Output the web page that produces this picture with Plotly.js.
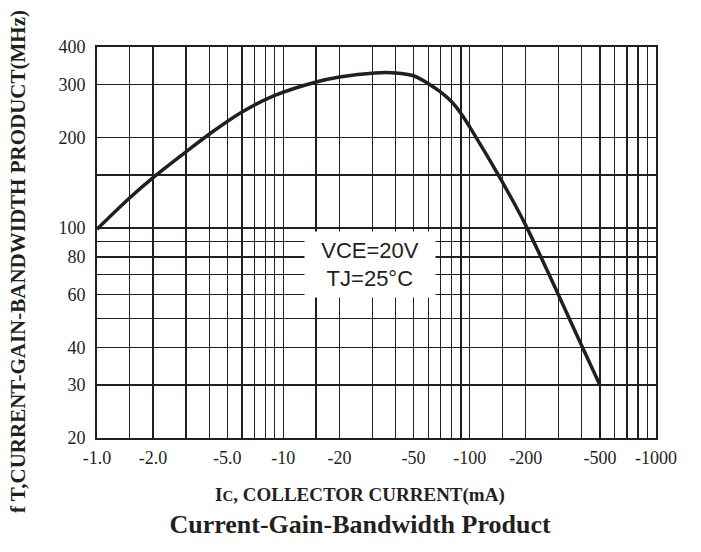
<!DOCTYPE html>
<html>
<head>
<meta charset="utf-8">
<script src="https://cdn.plot.ly/plotly-3.0.1.min.js"></script>
<style>html,body{margin:0;padding:0;background:#fff;}#chart{width:701px;height:552px;}</style>
</head>
<body>
<div id="chart"></div>
<script>
// Collector current (mA, magnitude) and transition frequency fT (MHz)
const ic = [1, 1.5, 2, 3, 4, 6, 9, 15, 20, 31, 40, 50, 60, 70, 80, 90, 100, 150, 200, 400, 500];
const ft = [99, 126, 147, 179, 205, 243, 276, 306, 318, 328, 328, 321, 302, 283, 263, 240, 217, 142, 102, 40.5, 30];

// Grid / tick values
const xGrid = [1, 1.5, 2, 3, 4, 5, 6, 7, 8, 9, 10, 15, 20, 30, 40, 50, 60, 70, 80, 90, 100, 150, 200, 300, 400, 500, 600, 700, 800, 900, 1000];
const xLabelVals = [1, 2, 5, 10, 20, 50, 100, 200, 500, 1000];
const xLabelText = ['-1.0', '-2.0', '-5.0', '-10', '-20', '-50', '-100', '-200', '-500', '-1000'];
const yGrid = [20, 30, 40, 50, 60, 70, 80, 90, 100, 150, 200, 300, 400];
const yLabelVals = [20, 30, 40, 60, 80, 100, 200, 300, 400];
const yLabelText = ['20', '30', '40', '60', '80', '100', '200', '300', '400'];

const serif = '"Liberation Serif", "Times New Roman", serif';
const ink = '#231f20';

const trace = {
  x: ic, y: ft, type: 'scatter', mode: 'lines',
  line: {color: ink, width: 3.5, shape: 'spline', smoothing: 1.0},
  hoverinfo: 'skip'
};

const layout = {
  width: 701, height: 552,
  margin: {l: 97, r: 45, t: 47, b: 114},
  paper_bgcolor: '#fff', plot_bgcolor: '#fff',
  showlegend: false,
  title: {
    text: 'Current-Gain-Bandwidth Product',
    font: {family: serif, size: 26, color: ink, weight: 'bold'},
    xref: 'paper', x: 0.4705, xanchor: 'center',
    yref: 'container', y: 1 - 524 / 552, yanchor: 'middle'
  },
  xaxis: {
    type: 'log', range: [0, 3],
    tickmode: 'array', tickvals: xLabelVals, ticktext: xLabelText,
    ticks: '', showgrid: true, gridcolor: ink, gridwidth: 1.3,
    minor: {tickmode: 'array', tickvals: xGrid, ticks: '', showgrid: true, gridcolor: ink, gridwidth: 1.3},
    showline: true, mirror: true, linecolor: ink, linewidth: 2,
    zeroline: false,
    tickfont: {family: serif, size: 18, color: ink},
    ticklabelstandoff: 2
  },
  yaxis: {
    type: 'log', range: [Math.log10(20), Math.log10(400)],
    tickmode: 'array', tickvals: yLabelVals, ticktext: yLabelText,
    ticks: '', showgrid: true, gridcolor: ink, gridwidth: 1.3,
    minor: {tickmode: 'array', tickvals: yGrid, ticks: '', showgrid: true, gridcolor: ink, gridwidth: 1.3},
    showline: true, mirror: true, linecolor: ink, linewidth: 2,
    zeroline: false,
    tickfont: {family: serif, size: 18, color: ink},
    ticklabelstandoff: 6
  },
  annotations: [
    {
      xref: 'paper', yref: 'paper', x: 0.488, y: 0.4425,
      xanchor: 'center', yanchor: 'middle',
      text: 'VCE=20V<br>TJ=25°C',
      font: {family: '"Liberation Sans", Arial, sans-serif', size: 22, color: ink},
      bgcolor: '#fff', borderpad: 0, width: 130, height: 65,
      showarrow: false, align: 'center'
    },
    {
      xref: 'paper', yref: 'paper', x: 0.4705, y: (438 - 495) / 391,
      xanchor: 'center', yanchor: 'middle',
      text: 'I<span style="font-size:15px">C</span>, COLLECTOR CURRENT(mA)',
      font: {family: serif, size: 19, color: ink, weight: 'bold'},
      showarrow: false
    },
    {
      xref: 'paper', yref: 'paper', x: -0.1413, y: 0.45,
      xanchor: 'center', yanchor: 'middle', textangle: -90,
      text: 'f T,CURRENT-GAIN-BANDWIDTH PRODUCT(MHz)',
      font: {family: serif, size: 21, color: ink, weight: 'bold'},
      showarrow: false
    }
  ]
};

Plotly.newPlot('chart', [trace], layout, {displayModeBar: false, staticPlot: true});
</script>
</body>
</html>
